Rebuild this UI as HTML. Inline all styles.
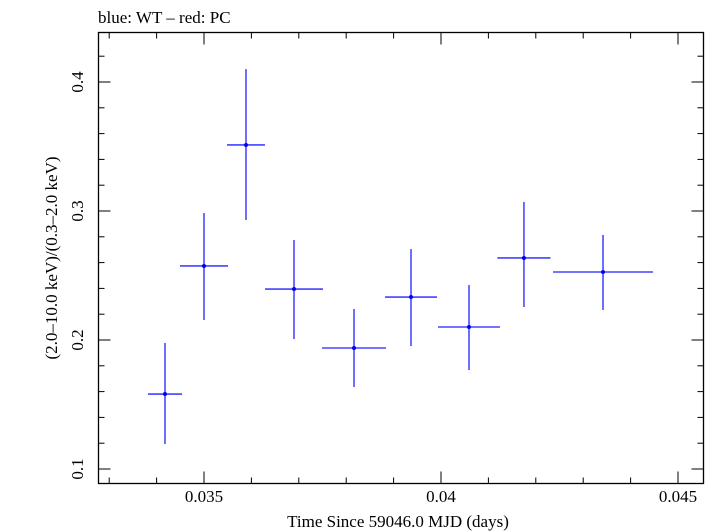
<!DOCTYPE html>
<html><head><meta charset="utf-8"><style>
body{margin:0;background:#fff;}
svg{display:block;font-family:"Liberation Serif",serif;}
</style></head><body>
<svg id="chart" width="718" height="532" viewBox="0 0 718 532" xmlns="http://www.w3.org/2000/svg">
<text x="98" y="23" font-size="17">blue: WT – red: PC</text>
<rect x="98.5" y="32.5" width="605" height="451" fill="none" stroke="#000" stroke-width="1.3"/>
<g id="axes"></g>
<g id="marks"></g>
<text x="398" y="527" font-size="17" text-anchor="middle">Time Since 59046.0 MJD (days)</text>
<text transform="translate(57,258) rotate(-90)" font-size="17" text-anchor="middle">(2.0–10.0 keV)/(0.3–2.0 keV)</text>
</svg>
<script>
const times=[0.034177,0.035,0.035886,0.036899,0.038165,0.039367,0.040591,0.04175,0.043418];
const timeErr=[0.00036,0.000506,0.0004,0.000612,0.000675,0.000549,0.000654,0.00056,0.001055];
const ratios=[0.1581,0.2574,0.3512,0.2395,0.1938,0.2333,0.2101,0.2636,0.2527];
const ratioHi=[0.1977,0.2984,0.410,0.2775,0.224,0.2705,0.2426,0.307,0.2814];
const ratioLo=[0.1194,0.2155,0.293,0.2008,0.1636,0.1953,0.1767,0.2256,0.2233];
const xTicks=[0.035,0.04,0.045];
const xTickLabels=["0.035","0.04","0.045"];
const yTicks=[0.1,0.2,0.3,0.4];
const yTickLabels=["0.1","0.2","0.3","0.4"];
const NS="http://www.w3.org/2000/svg";
const L=98.5,R=703.5,T=32.5,B=483.5;
function xs(t){return 204+(t-0.035)*47400;}
function ys(v){return 82+(0.4-v)*1290;}
function mk(tag,attrs,parent){const e=document.createElementNS(NS,tag);for(const k in attrs)e.setAttribute(k,attrs[k]);parent.appendChild(e);return e;}
const ax=document.getElementById('axes');
for(let i=33;i<=45;i++){const t=i/1000;const x=xs(t);const major=(i%5===0);const len=major?12:6;
 let a=mk('line',{x1:x,x2:x,y1:B,y2:B-len,stroke:'#000','stroke-width':1},ax);
 
 let b=mk('line',{x1:x,x2:x,y1:T,y2:T+len,stroke:'#000','stroke-width':1},ax);
 }
xTicks.forEach((t,i)=>{const e=mk('text',{x:xs(t),y:502,'font-size':17,'text-anchor':'middle'},ax);e.textContent=xTickLabels[i];
 });
for(let i=5;i<=21;i++){const v=i/50;const y=ys(v);if(y<T||y>B)continue;const major=(i%5===0);const len=major?12:6;
 let a=mk('line',{x1:L,x2:L+len,y1:y,y2:y,stroke:'#000','stroke-width':1},ax);
 
 let b=mk('line',{x1:R,x2:R-len,y1:y,y2:y,stroke:'#000','stroke-width':1},ax);
 }
yTicks.forEach((v,i)=>{const e=mk('text',{transform:`translate(83,${ys(v)}) rotate(-90)`,'font-size':17,'text-anchor':'middle'},ax);e.textContent=yTickLabels[i];
 });
const mg=document.getElementById('marks');
times.forEach((t,i)=>{const g=mk('g',{},mg);
 
 mk('line',{x1:xs(t-timeErr[i]),x2:xs(t+timeErr[i]),y1:ys(ratios[i]),y2:ys(ratios[i]),stroke:'#2020ff','stroke-width':1.3},g);
 mk('line',{x1:xs(t),x2:xs(t),y1:ys(ratioHi[i]),y2:ys(ratioLo[i]),stroke:'#2020ff','stroke-width':1.3},g);
 mk('circle',{cx:xs(t),cy:ys(ratios[i]),r:2,fill:'#0000ff'},g);});
</script>
</body></html>
